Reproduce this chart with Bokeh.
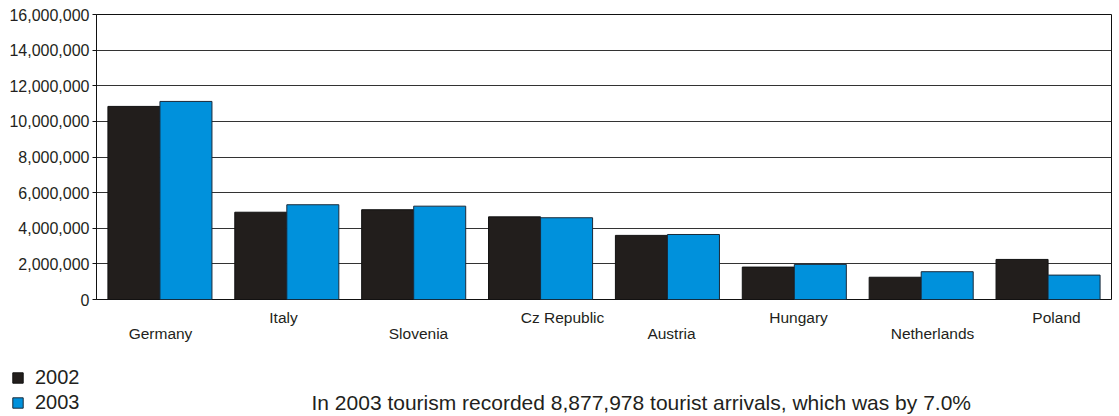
from bokeh.plotting import figure
from bokeh.layouts import column
from bokeh.models import (NumeralTickFormatter, FixedTicker, Range1d,
                          LinearAxis, ColumnDataSource, Legend, LegendItem, Label)
from bokeh.transform import dodge
from bokeh.embed import file_html
from bokeh.resources import INLINE

countries = ["Germany", "Italy", "Slovenia", "Cz Republic", "Austria",
             "Hungary", "Netherlands", "Poland"]
arrivals_2002 = [10840000, 4900000, 5040000, 4640000, 3600000, 1820000, 1250000, 2250000]
arrivals_2003 = [11120000, 5320000, 5240000, 4590000, 3650000, 1970000, 1560000, 1370000]
y_ticks = [0, 2000000, 4000000, 6000000, 8000000, 10000000, 12000000, 14000000, 16000000]
series_names = ["2002", "2003"]
note = "In 2003 tourism recorded 8,877,978 tourist arrivals, which was by 7.0%"

# layout of staggered category labels (pixel offsets from category centre, row)
label_dx = [1, -3, 5, 22, 4, 4, 11, 8]
label_row = [1, 0, 1, 0, 1, 0, 1, 0]

FONT = "Liberation Sans"
TEXT = "#231f20"
BLACK = "#221e1c"
BLUE = "#0091dc"

W = 1119
LEFT = 96
FRAME_W = W - LEFT - 8
n = len(countries)

src = ColumnDataSource(dict(xi=[i + 0.5 for i in range(n)], c=countries,
                            a=arrivals_2002, b=arrivals_2003))

p = figure(x_range=Range1d(0, n), y_range=Range1d(0, 16000000),
           width=W, height=350, output_backend="svg", toolbar_location=None,
           x_axis_location=None,
           min_border_left=LEFT, min_border_right=8, min_border_top=14,
           min_border_bottom=51, background_fill_color="white",
           border_fill_color="white")

r1 = p.vbar(x=dodge("xi", -0.205), top="a", width=0.41, source=src,
            fill_color=BLACK, line_color="#111111", line_width=1)
r2 = p.vbar(x=dodge("xi", 0.205), top="b", width=0.41, source=src,
            fill_color=BLUE, line_color="#1a2a3a", line_width=1)

p.outline_line_color = "#111111"
p.outline_line_width = 1

p.xgrid.visible = False
p.ygrid.grid_line_color = "#333333"
p.ygrid.grid_line_width = 1
p.ygrid.ticker = FixedTicker(ticks=y_ticks)

p.yaxis.ticker = FixedTicker(ticks=y_ticks)
p.yaxis.formatter = NumeralTickFormatter(format="0,0")
p.yaxis.major_label_text_font = FONT
p.yaxis.major_label_text_font_size = "16px"
p.yaxis.major_label_text_color = TEXT
p.yaxis.axis_line_color = "#111111"
p.yaxis.major_tick_line_color = "#111111"
p.yaxis.major_tick_out = 4
p.yaxis.major_tick_in = 0
p.yaxis.minor_tick_line_color = None
p.yaxis.major_label_standoff = 3

# staggered category labels on a pixel-scaled helper axis
cat_px = FRAME_W / n
p.extra_x_ranges = {"px": Range1d(0, FRAME_W)}
tick_px = [int(round(cat_px * (i + 0.5) + label_dx[i])) for i in range(n)]
overrides = {t: (("\n" if label_row[i] == 1 else "") + countries[i])
             for i, t in enumerate(tick_px)}
lab_axis = LinearAxis(x_range_name="px", ticker=FixedTicker(ticks=tick_px),
                      major_label_overrides=overrides,
                      axis_line_color=None, major_tick_line_color=None,
                      minor_tick_line_color=None, major_tick_out=0, major_tick_in=0,
                      major_label_standoff=9,
                      major_label_text_font=FONT, major_label_text_font_size="15.5px",
                      major_label_text_color=TEXT,
                      major_label_text_line_height=0.95)
p.add_layout(lab_axis, "below")

# lower panel: legend and note
q = figure(width=W, height=66, output_backend="svg", toolbar_location=None,
           x_axis_type=None, y_axis_type=None, x_range=(0, 1), y_range=(0, 1),
           min_border=0, outline_line_color=None,
           background_fill_color="white", border_fill_color="white")
q.xgrid.visible = False
q.ygrid.visible = False

for fig in (p, q):
    try:
        fig.frame_align = False
    except (AttributeError, ValueError):
        pass

s1 = q.vbar(x=dodge("xi", -0.205), top="a", width=0.41, source=src,
            fill_color=BLACK, line_color="#111111", visible=False)
s2 = q.vbar(x=dodge("xi", 0.205), top="b", width=0.41, source=src,
            fill_color=BLUE, line_color="#1a2a3a", visible=False)
legend = Legend(items=[LegendItem(label=series_names[0], renderers=[s1]),
                       LegendItem(label=series_names[1], renderers=[s2])],
                location=(11, 2), orientation="vertical",
                background_fill_alpha=0, border_line_color=None,
                inactive_fill_alpha=0,
                label_text_font=FONT, label_text_font_size="20px",
                label_text_color=TEXT, glyph_width=13, glyph_height=13,
                label_standoff=11, spacing=2, padding=0, margin=0,
                label_height=20)
q.add_layout(legend, "center")
q.add_layout(Label(x=311, y=14, x_units="screen", y_units="screen", text=note,
                   text_font=FONT, text_font_size="21px", text_color=TEXT,
                   text_baseline="alphabetic"))

open("out.html", "w").write(file_html(column(p, q, spacing=0), INLINE))
